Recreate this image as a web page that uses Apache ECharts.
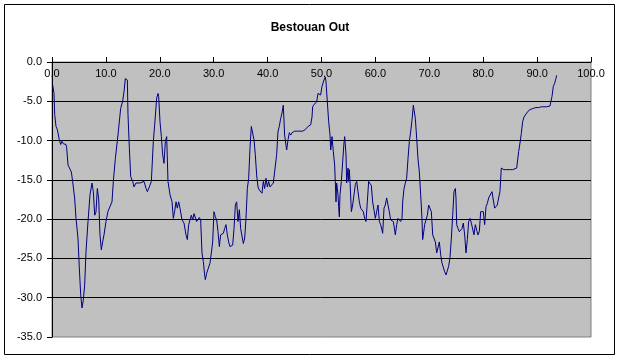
<!DOCTYPE html>
<html><head><meta charset="utf-8">
<script src="https://cdn.jsdelivr.net/npm/echarts@6/dist/echarts.min.js"></script>
<style>html,body{margin:0;padding:0;background:#fff}#c{width:620px;height:360px}</style>
</head><body><div id="c"></div>
<script>
const title = "Bestouan Out";
const xTicks = [0,10,20,30,40,50,60,70,80,90,100];
const yTicks = [0,-5,-10,-15,-20,-25,-30,-35];
const distance = [
0.12,0.37,0.5,0.74,0.99,1.36,1.61,1.86,2.1,2.35,2.6,2.72,2.97,3.34,3.59,3.83,4.2,4.45,4.82,5.07,5.32,5.57,5.81,6.06,6.31,6.68,7.05,7.42,7.67,7.92,8.16,8.41,8.66,8.9,9.15,9.4,9.65,10.02,10.39,10.76,11.13,11.38,11.75,12.24,12.74,13.11,13.36,13.6,13.85,13.98,14.1,14.35,14.6,14.97,15.21,15.58,15.95,16.33,16.7,17.07,17.45,17.69,18.06,18.43,18.8,19.05,19.42,19.67,19.79,20.04,20.29,20.53,20.78,21.03,21.28,21.52,21.9,22.27,22.51,22.76,23.01,23.25,23.5,23.75,24.12,24.49,24.86,25.11,25.36,25.6,
25.85,26.1,26.34,26.59,26.84,27.09,27.33,27.58,27.83,28.08,28.32,28.45,28.69,29.06,29.31,29.56,29.81,30.05,30.3,30.55,30.8,31.05,31.29,31.54,31.79,32.03,32.28,32.53,32.78,33.02,33.27,33.52,33.77,34.02,34.26,34.51,34.76,35.0,35.25,35.5,35.75,35.99,36.24,36.49,36.73,36.98,37.23,37.48,37.72,37.97,38.22,38.46,38.71,38.96,39.21,39.45,39.7,39.95,40.19,40.44,40.81,41.06,41.43,41.68,41.92,42.17,42.42,42.67,42.91,43.16,43.41,
43.54,43.79,44.03,44.28,44.53,44.77,45.02,45.27,45.52,45.76,46.01,46.26,46.5,46.75,47.0,47.25,47.49,47.74,47.99,48.24,48.36,48.61,48.85,49.1,49.35,49.6,49.84,50.09,50.34,50.46,50.71,50.83,51.08,51.33,51.58,51.7,51.82,51.95,52.19,52.44,52.57,52.69,52.81,52.94,53.06,53.18,53.31,53.43,53.68,53.93,54.17,54.3,54.55,54.67,54.92,55.04,55.16,55.29,55.54,55.78,56.03,56.28,56.53,56.77,57.02,57.27,57.51,57.76,58.01,58.26,58.5,58.75,59.0,59.24,59.49,59.74,59.99,60.23,60.48,60.73,60.97,61.22,61.35,61.6,61.84,62.09,62.34,62.58,
62.83,63.08,63.33,63.58,63.7,63.95,64.19,64.44,64.69,64.94,65.06,65.31,65.55,65.8,66.05,66.3,66.54,66.79,67.04,67.29,67.41,67.66,67.9,68.15,68.4,68.64,68.77,68.89,69.14,69.39,69.64,69.88,70.13,70.38,70.63,70.87,71.12,71.37,71.62,71.86,72.11,72.36,72.61,72.85,73.1,73.35,73.59,73.84,74.09,74.34,74.58,74.83,74.95,75.08,75.33,75.57,75.82,76.07,76.31,76.56,76.81,77.06,77.3,77.55,77.8,78.04,78.29,78.54,78.79,79.03,79.28,79.53,79.78,80.02,80.27,80.52,80.77,81.01,
81.38,81.63,81.88,82.12,82.37,82.62,82.86,83.11,83.36,83.61,83.85,84.1,84.35,84.72,85.09,85.47,85.84,86.21,86.33,86.58,86.83,87.07,87.32,87.57,87.81,88.06,88.31,88.56,88.8,89.3,89.79,90.29,90.78,91.28,91.77,92.39,92.64,92.76,93.01,93.26,93.5,93.63
];
const level = [
-2.9,-4.0,-6.7,-8.2,-8.6,-9.9,-10.5,-10.1,-10.4,-10.2,-10.5,-10.9,-13.1,-13.3,-14.0,-15.2,-17.3,-19.9,-22.4,-26.2,-29.6,-31.3,-30.3,-28.4,-24.1,-20.3,-16.9,-15.4,-16.5,-19.5,-19.1,-16.1,-17.4,-22.0,-23.9,-22.9,-22.0,-20.3,-19.0,-18.8,-17.8,-15.2,-12.3,-9.3,-5.9,-5.0,-3.8,-2.1,-1.9,-2.3,-6.7,-10.9,-14.6,-15.2,-15.9,-15.4,-15.5,-15.4,-15.4,-15.2,-16.1,-16.5,-15.9,-15.2,-10.1,-8.0,-4.6,-4.0,-4.4,-7.6,-9.5,-11.8,-12.9,-10.1,-9.5,-15.2,-16.9,-17.8,-19.9,-19.0,-17.8,-18.6,-17.8,-18.6,-20.1,-20.5,-22.0,-22.6,-20.7,-20.5,
-19.5,-20.1,-19.3,-19.5,-20.3,-20.5,-19.8,-20.1,-24.3,-25.4,-27.1,-27.7,-26.9,-26.9,-25.6,-24.3,-22.9,-19.05,-19.7,-20.1,-21.6,-23.5,-22.0,-22.0,-21.8,-21.2,-20.7,-22.0,-22.9,-23.5,-23.7,-23.3,-21.2,-18.2,-17.8,-20.3,-18.8,-21.2,-21.4,-23.1,-22.4,-19.9,-16.1,-14.8,-11.0,-8.2,-8.0,-9.9,-11.8,-14.4,-15.9,-16.3,-16.5,-16.7,-15.2,-16.1,-14.8,-15.9,-15.2,-15.9,-15.9,-15.4,-15.2,-11.8,-8.9,-8.2,-7.2,-6.5,-5.5,-9.3,-10.6,
-11.2,-9.9,-9.0,-9.3,-9.0,-8.9,-8.8,-8.9,-8.8,-8.9,-8.8,-8.8,-8.8,-8.6,-8.6,-8.5,-8.2,-8.4,-8.0,-7.0,-5.7,-5.4,-5.3,-5.1,-4.0,-3.8,-4.2,-3.1,-2.9,-2.3,-1.9,-2.5,-5.05,-7.6,-9.3,-11.2,-10.6,-9.5,-11.4,-13.1,-15.4,-17.8,-15.4,-16.1,-16.9,-18.4,-19.7,-16.9,-15.2,-12.7,-10.3,-9.5,-11.8,-15.4,-13.5,-15.2,-13.7,-15.2,-19.05,-18.2,-16.9,-15.6,-15.2,-16.5,-17.8,-18.6,-18.8,-19.05,-19.9,-20.3,-17.8,-15.2,-15.1,-15.7,-17.8,-17.8,-19.9,-19.05,-18.2,-20.3,-20.7,-21.4,-21.8,-18.6,-18.2,-17.3,-17.2,-19.05,
-20.1,-20.1,-20.3,-20.5,-22.0,-20.7,-19.9,-19.9,-20.3,-19.9,-17.8,-16.1,-15.4,-14.8,-12.3,-10.1,-8.9,-7.4,-5.5,-5.5,-7.2,-9.7,-12.3,-14.0,-16.9,-19.9,-22.6,-22.0,-20.7,-20.5,-19.5,-18.2,-18.4,-19.05,-22.0,-22.2,-22.9,-24.3,-24.3,-22.9,-24.5,-25.6,-25.8,-26.7,-27.1,-27.3,-26.0,-24.9,-22.4,-19.5,-16.5,-16.1,-17.3,-20.7,-21.2,-21.6,-21.4,-21.2,-20.5,-22.0,-24.3,-22.6,-20.3,-19.9,-20.5,-20.3,-22.0,-20.7,-21.4,-22.0,-21.6,-19.05,-18.8,-19.05,-20.7,-18.4,-18.0,-17.3,
-17.1,-16.5,-16.7,-18.6,-18.8,-18.2,-17.3,-16.5,-13.5,-13.5,-13.7,-13.9,-13.7,-13.7,-13.7,-13.7,-13.5,-13.5,-13.3,-11.4,-10.3,-9.1,-7.6,-7.0,-6.8,-6.5,-6.3,-6.1,-5.9,-5.9,-5.8,-5.8,-5.7,-5.7,-5.7,-5.6,-5.5,-4.4,-3.1,-2.7,-2.1,-1.7
];
const points = distance.map((d, i) => [d, level[i]]);
const chart = echarts.init(document.getElementById('c'), null, {renderer: 'canvas'});
const font = 'Arial, "Liberation Sans", sans-serif';
chart.setOption({
  animation: false,
  backgroundColor: '#ffffff',
  title: {text: title, left: 'center', top: 17, textStyle: {fontFamily: font, fontSize: 12, fontWeight: 'bold', color: '#000'}},
  graphic: [{type: 'rect', shape: {x: 4.5, y: 4.5, width: 610, height: 350}, style: {fill: 'none', stroke: '#000', lineWidth: 1}, silent: true}],
  grid: {left: 52, top: 62, width: 539, height: 275, show: true, backgroundColor: '#c0c0c0', borderColor: '#808080', borderWidth: 1},
  xAxis: {
    type: 'value', position: 'top', min: xTicks[0], max: xTicks[xTicks.length - 1], interval: 10,
    axisLine: {show: true, onZero: false, lineStyle: {color: '#000', width: 1}},
    axisTick: {show: true, inside: false, length: 5, lineStyle: {color: '#000'}},
    axisLabel: {inside: true, margin: 6, color: '#000', fontFamily: font, fontSize: 11, formatter: v => v.toFixed(1)},
    splitLine: {show: false}
  },
  yAxis: {
    type: 'value', min: yTicks[yTicks.length - 1], max: yTicks[0], interval: 5,
    axisLine: {show: true, lineStyle: {color: '#000', width: 1}},
    axisTick: {show: true, inside: false, length: 5, lineStyle: {color: '#000'}},
    axisLabel: {margin: 10, color: '#000', fontFamily: font, fontSize: 11, formatter: v => v.toFixed(1)},
    splitLine: {show: true, showMinLine: false, lineStyle: {color: '#000', width: 1}}
  },
  series: [{type: 'line', data: points, showSymbol: false, symbol: 'none', lineStyle: {color: '#000080', width: 1}, itemStyle: {color: '#000080'}}]
});
</script></body></html>
